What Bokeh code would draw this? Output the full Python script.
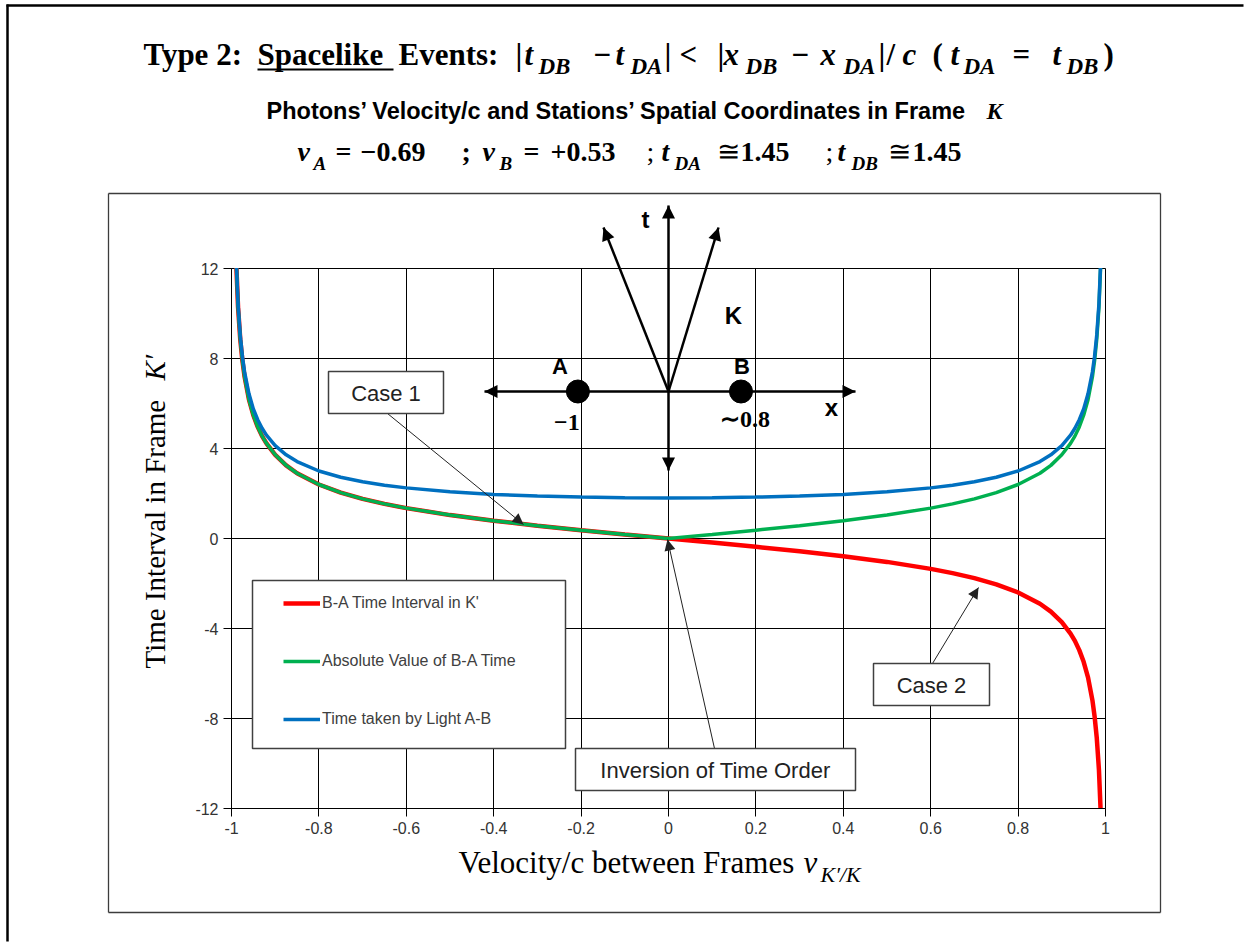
import math

from bokeh.plotting import figure
from bokeh.models import (Label, Arrow, NormalHead, BoxAnnotation, Legend, LegendItem,
                          FixedTicker, NumeralTickFormatter, Grid)
from bokeh.embed import file_html
from bokeh.resources import INLINE

# ---------------------------------------------------------------------------
# Data: time intervals in frame K' versus velocity/c of K' relative to K
# ---------------------------------------------------------------------------
velocity = [-0.99, -0.985, -0.98, -0.975, -0.97, -0.96, -0.95, -0.94, -0.93, -0.92,
            -0.9, -0.875, -0.85, -0.8, -0.75, -0.7, -0.65, -0.6, -0.5, -0.4, -0.3,
            -0.2, -0.1, 0.0, 0.1, 0.2, 0.3, 0.4, 0.5, 0.6, 0.65, 0.7, 0.75, 0.8,
            0.85, 0.875, 0.9, 0.92, 0.93, 0.94, 0.95, 0.96, 0.97, 0.975, 0.98,
            0.985, 0.99]

# B-A time interval in K'
interval_ba = [12.63, 10.28, 8.86, 7.90, 7.18, 6.17, 5.48, 4.96, 4.55, 4.23,
               3.72, 3.25, 2.90, 2.40, 2.04, 1.76, 1.54, 1.35, 1.04, 0.79, 0.57,
               0.37, 0.18, 0.00, -0.18, -0.37, -0.57, -0.79, -1.04, -1.35, -1.54,
               -1.76, -2.04, -2.40, -2.90, -3.25, -3.72, -4.23, -4.55, -4.96,
               -5.48, -6.17, -7.18, -7.90, -8.86, -10.28, -12.63]

# Absolute value of the B-A time interval
interval_abs = [12.63, 10.28, 8.86, 7.90, 7.18, 6.17, 5.48, 4.96, 4.55, 4.23,
                3.72, 3.25, 2.90, 2.40, 2.04, 1.76, 1.54, 1.35, 1.04, 0.79, 0.57,
                0.37, 0.18, 0.00, 0.18, 0.37, 0.57, 0.79, 1.04, 1.35, 1.54,
                1.76, 2.04, 2.40, 2.90, 3.25, 3.72, 4.23, 4.55, 4.96,
                5.48, 6.17, 7.18, 7.90, 8.86, 10.28, 12.63]

# Time taken by light to travel from A to B in K'
light_time = [12.76, 10.43, 9.05, 8.10, 7.40, 6.43, 5.76, 5.28, 4.90, 4.59,
              4.13, 3.72, 3.42, 3.00, 2.72, 2.52, 2.37, 2.25, 2.08, 1.96, 1.89,
              1.84, 1.81, 1.80, 1.81, 1.84, 1.89, 1.96, 2.08, 2.25, 2.37,
              2.52, 2.72, 3.00, 3.42, 3.72, 4.13, 4.59, 4.90, 5.28,
              5.76, 6.43, 7.40, 8.10, 9.05, 10.43, 12.76]

series_labels = ["B-A Time Interval in K'", "Absolute Value of B-A Time",
                 "Time taken by Light A-B"]
series_colors = ["#FF0000", "#00B050", "#0070C0"]

x_ticks = [-1, -0.8, -0.6, -0.4, -0.2, 0, 0.2, 0.4, 0.6, 0.8, 1]
y_ticks = [-12, -8, -4, 0, 4, 8, 12]
x_limits = (-1, 1)
y_limits = (-12, 12)

# Stations in frame K (spatial coordinates) for the inset sketch
station_x = [-1.0, 0.8]
station_names = ["A", "B"]
station_marks = ["\u22121", "\u223c0.8"]

# ---------------------------------------------------------------------------
# One canvas for the whole page; the plot area sits inside it and the axes are
# pinned to its lower-left corner.
# ---------------------------------------------------------------------------
PAGE_W, PAGE_H = 1245, 942
AREA_L, AREA_T = 231, 268           # page position of (v=-1, t=12)
PX_PER_X, PX_PER_Y = 437.0, 22.5
SERIF, SANS = "Liberation Serif", "Liberation Sans"


def X(px):
    return x_limits[0] + (px - AREA_L) / PX_PER_X


def Y(py):
    return y_limits[1] - (py - AREA_T) / PX_PER_Y


p = figure(width=PAGE_W, height=PAGE_H, x_range=(X(0), X(PAGE_W)),
           y_range=(Y(PAGE_H), Y(0)), output_backend="svg", toolbar_location=None,
           min_border_left=0, min_border_right=0, min_border_top=0,
           min_border_bottom=0)
p.background_fill_color = "white"
p.border_fill_color = "white"
p.outline_line_color = None

p.xaxis.fixed_location = y_limits[0]
p.yaxis.fixed_location = x_limits[0]
p.xaxis.bounds = x_limits
p.yaxis.bounds = y_limits
p.xaxis.ticker = FixedTicker(ticks=x_ticks)
p.yaxis.ticker = FixedTicker(ticks=y_ticks)
p.xaxis.formatter = NumeralTickFormatter(format="0.[0]")
p.yaxis.formatter = NumeralTickFormatter(format="0")
for ax in (p.xaxis, p.yaxis):
    ax.axis_line_color = "black"
    ax.major_tick_line_color = "black"
    ax.major_tick_in = 0
    ax.major_tick_out = 8
    ax.minor_tick_line_color = None
    ax.major_label_text_font = SANS
    ax.major_label_text_font_size = "16px"
    ax.major_label_text_color = "#333333"
    ax.major_label_standoff = 5

p.xgrid.ticker = FixedTicker(ticks=x_ticks)
p.ygrid.ticker = FixedTicker(ticks=y_ticks)
if "cross_bounds" in Grid.properties():
    p.xgrid.bounds = x_limits
    p.ygrid.bounds = y_limits
    p.xgrid.cross_bounds = y_limits
    p.ygrid.cross_bounds = x_limits
    for g in (p.xgrid, p.ygrid):
        g.grid_line_color = "black"
        g.grid_line_width = 1
        g.grid_line_alpha = 1
else:
    p.xgrid.visible = False
    p.ygrid.visible = False
    p.segment(x0=x_ticks, y0=[y_limits[0]] * len(x_ticks), x1=x_ticks,
              y1=[y_limits[1]] * len(x_ticks), line_color="black", line_width=1,
              level="underlay")
    p.segment(x0=[x_limits[0]] * len(y_ticks), y0=y_ticks,
              x1=[x_limits[1]] * len(y_ticks), y1=y_ticks, line_color="black",
              line_width=1, level="underlay")

r_red = p.line(velocity, interval_ba, line_color=series_colors[0], line_width=4.5)
r_green = p.line(velocity, interval_abs, line_color=series_colors[1], line_width=3.5)
r_blue = p.line(velocity, light_time, line_color=series_colors[2], line_width=3.5)

# the curves run off the plot area; blank what lies beyond t = +/-12
p.quad(left=[X(AREA_L - 8)] * 2, right=[X(1114)] * 2,
       top=[Y(AREA_T - 30), y_limits[0] - 0.6 / PX_PER_Y],
       bottom=[y_limits[1] + 0.6 / PX_PER_Y, Y(845)],
       fill_color="white", line_color=None)


# ---------------------------------------------------------------------------
# drawing helpers in page pixels
# ---------------------------------------------------------------------------
def text(s, px, py, size, font=SERIF, style="bold", align="left", color="black",
         angle=0.0, centered=False):
    """Text given by its baseline (or centre when centered=True) in page px."""
    ax, ay = px, py
    if not centered:
        if angle:
            ax = px - 0.32 * size
        else:
            ay = py - 0.32 * size
    p.add_layout(Label(x=X(ax), y=Y(ay), text=s, text_font=font,
                       text_font_size=f"{size}px", text_font_style=style,
                       text_align=align, text_baseline="middle",
                       text_color=color, angle=angle))


def line(x0, y0, x1, y1, width=1.0, color="black", start=False, end=False,
         size=12):
    """Straight stroke, with optional filled heads at either end."""
    p.segment(x0=[X(x0)], y0=[Y(y0)], x1=[X(x1)], y1=[Y(y1)],
              line_color=color, line_width=width)
    for flag, (a, b, c, d) in ((end, (x0, y0, x1, y1)), (start, (x1, y1, x0, y0))):
        if flag:
            p.add_layout(Arrow(x_start=X(a), y_start=Y(b), x_end=X(c), y_end=Y(d),
                               line_alpha=0, start=None,
                               end=NormalHead(size=size + 1, fill_color=color,
                                              fill_alpha=1, line_alpha=0)))


def callout(label, l, t, r, b):
    p.add_layout(BoxAnnotation(left=X(l), right=X(r), top=Y(t), bottom=Y(b),
                               fill_color="white", fill_alpha=1,
                               line_color="#404040", line_alpha=1,
                               line_width=1.5))
    text(label, (l + r) / 2, (t + b) / 2 + 1, 22, font=SANS, style="normal",
         align="center", color="#222222", centered=True)


# page border and chart border
line(7, 4, 7, PAGE_H - 1, width=2.5)
line(6, 5, PAGE_W - 2, 5, width=2.5)
for seg in [(108, 193, 1160, 193), (108, 912, 1160, 912),
            (108, 193, 108, 912), (1160, 193, 1160, 912)]:
    line(*seg, width=1.3, color="#3c3c3c")

# ---------------------------------------------------------------------------
# headings
# ---------------------------------------------------------------------------
T1, S1, B1, SB1 = 31, 23, 64, 73
line1 = [
    ("Type 2: ", 143, B1, T1, "bold"),
    ("Spacelike", 257, B1, T1, "bold"),
    ("Events:", 398, B1, T1, "bold"),
    ("|", 515, B1, T1, "bold"),
    ("t", 524, B1, T1, "bold italic"),
    ("DB", 538, SB1, S1, "bold italic"),
    ("\u2212", 593, B1, T1, "bold"),
    ("t", 615, B1, T1, "bold italic"),
    ("DA", 630, SB1, S1, "bold italic"),
    ("|", 664, B1, T1, "bold"),
    ("<", 679, B1, T1, "bold"),
    ("|", 717, B1, T1, "bold"),
    ("x", 723, B1, T1, "bold italic"),
    ("DB", 745, SB1, S1, "bold italic"),
    ("\u2212", 791, B1, T1, "bold"),
    ("x", 820, B1, T1, "bold italic"),
    ("DA", 843, SB1, S1, "bold italic"),
    ("|", 878, B1, T1, "bold"),
    ("/", 886, B1, T1, "bold"),
    ("c", 902, B1, T1, "bold italic"),
    ("(", 932, B1, T1, "bold"),
    ("t", 950, B1, T1, "bold italic"),
    ("DA", 963, SB1, S1, "bold italic"),
    ("=", 1012, B1, T1, "bold"),
    ("t", 1052, B1, T1, "bold italic"),
    ("DB", 1066, SB1, S1, "bold italic"),
    (")", 1103, B1, T1, "bold"),
]
for s, px, py, size, style in line1:
    text(s, px, py, size, style=style)
line(257, 69, 393, 69, width=2)

text("Photons\u2019 Velocity/c and Stations\u2019 Spatial Coordinates in Frame",
     266, 118, 23.5, font=SANS, style="bold")
text("K", 986, 118, 24, style="bold italic")

T3, S3, B3, SB3 = 28, 19, 160, 169
line3 = [
    ("v", 297, B3, T3, "bold italic"),
    ("A", 313, SB3, S3, "bold italic"),
    ("=", 335, B3, T3, "bold"),
    ("\u22120.69", 360, B3, T3, "bold"),
    (";", 461, B3, T3, "bold"),
    ("v", 482, B3, T3, "bold italic"),
    ("B", 499, SB3, S3, "bold italic"),
    ("=", 523, B3, T3, "bold"),
    ("+0.53", 550, B3, T3, "bold"),
    (";", 646, B3, T3, "normal"),
    ("t", 661, B3, T3, "bold italic"),
    ("DA", 674, SB3, S3, "bold italic"),
    ("\u2245", 716, B3, T3, "normal"),
    ("1.45", 740, B3, T3, "bold"),
    (";", 825, B3, T3, "normal"),
    ("t", 837, B3, T3, "bold italic"),
    ("DB", 851, SB3, S3, "bold italic"),
    ("\u2245", 887, B3, T3, "normal"),
    ("1.45", 912, B3, T3, "bold"),
]
for s, px, py, size, style in line3:
    text(s, px, py, size, style=style)

# axis titles
text("Velocity/c between Frames", 458, 872, 31, style="normal")
text("v", 803, 872, 31, style="italic")
text("K\u2032/K", 820, 881, 22, style="italic")
text("Time Interval in Frame", 164, 668, 29, style="normal", angle=math.pi / 2)
text("K\u2032", 164, 380, 29, style="italic", angle=math.pi / 2)

# ---------------------------------------------------------------------------
# legend: framed box with three entries
# ---------------------------------------------------------------------------
p.add_layout(BoxAnnotation(left=X(252), right=X(565), top=Y(580), bottom=Y(748),
                           fill_color="white", fill_alpha=1, line_alpha=1,
                           line_color="#404040", line_width=1.5))
legend = Legend(items=[LegendItem(label=series_labels[0], renderers=[r_red]),
                       LegendItem(label=series_labels[1], renderers=[r_green]),
                       LegendItem(label=series_labels[2], renderers=[r_blue])],
                location=(283, PAGE_H - 728), orientation="vertical",
                padding=0, margin=0, spacing=40, glyph_width=37, glyph_height=16,
                label_height=16, label_standoff=2, label_text_font=SANS,
                label_text_font_size="16px", label_text_color="#404040",
                border_line_alpha=0, background_fill_alpha=0)
p.add_layout(legend)

# ---------------------------------------------------------------------------
# callouts
# ---------------------------------------------------------------------------
callout("Case 1", 328, 371, 443, 413)
line(387, 413, 523, 524, width=1, color="#222222", end=True, size=10)
callout("Case 2", 873, 663, 989, 705)
line(932, 663, 978, 587, width=1, color="#222222", end=True, size=10)
callout("Inversion of Time Order", 575, 748, 855, 790)
line(714, 748, 667, 539, width=1, color="#222222", end=True, size=10)

# ---------------------------------------------------------------------------
# inset: stations A and B on the x axis of frame K with photon world lines
# ---------------------------------------------------------------------------
OX, OY, UNIT = 668, 391, 90.6
line(484, OY, 855, OY, width=2.5, start=True, end=True, size=12)
line(OX, 470, OX, 205, width=2.5, start=True, end=True, size=12)
line(OX, OY, 603, 227, width=2.5, end=True, size=12)
line(OX, OY, 718, 227, width=2.5, end=True, size=12)
station_px = [OX + sx * UNIT for sx in station_x]
p.scatter([X(px) for px in station_px], [Y(OY)] * len(station_px), size=23,
          marker="circle", fill_color="black", line_color="black")
for name, mark, px in zip(station_names, station_marks, station_px):
    text(name, px - 18 if name == "A" else px + 1, 373, 22, font=SANS,
         align="center")
    text(mark, px - 11 if name == "A" else px + 4, 430 if name == "A" else 426,
         24, align="center")
text("t", 645, 227, 24, font=SANS, align="center")
text("K", 733, 323, 24, font=SANS, align="center")
text("x", 831, 415, 24, font=SANS, align="center")

open("out.html", "w").write(file_html(p, INLINE))
